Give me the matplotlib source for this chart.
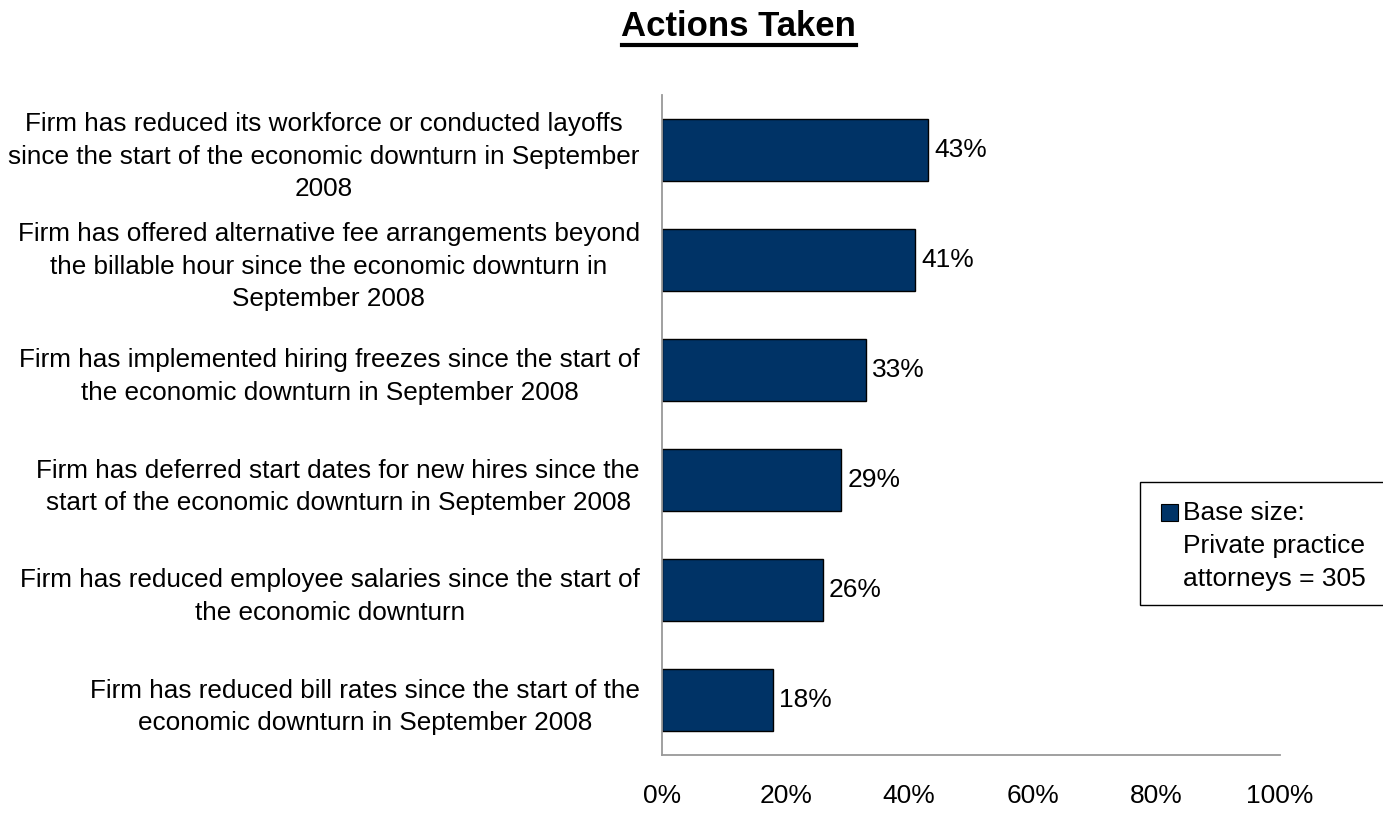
import matplotlib.pyplot as plt
import matplotlib.patches as mpatches

categories = [
    "Firm has reduced its workforce or conducted layoffs\nsince the start of the economic downturn in September\n2008",
    "Firm has offered alternative fee arrangements beyond\nthe billable hour since the economic downturn in\nSeptember 2008",
    "Firm has implemented hiring freezes since the start of\nthe economic downturn in September 2008",
    "Firm has deferred start dates for new hires since the\nstart of the economic downturn in September 2008",
    "Firm has reduced employee salaries since the start of\nthe economic downturn",
    "Firm has reduced bill rates since the start of the\neconomic downturn in September 2008",
]
values = [0.43, 0.41, 0.33, 0.29, 0.26, 0.18]
xticks = [0, 0.2, 0.4, 0.6, 0.8, 1.0]
xticklabels = ["0%", "20%", "40%", "60%", "80%", "100%"]

plt.rcParams['font.family'] = ['Liberation Sans', 'DejaVu Sans']
navy = "#003366"

fig = plt.figure(figsize=(13.83, 8.15), dpi=100)
ax = fig.add_axes([662/1383, 1-755/815, 618/1383, 660/815])

y = list(range(len(values)))[::-1]
ax.barh(y, values, height=0.56, color=navy, edgecolor="black", linewidth=1)
for yi, v in zip(y, values):
    ax.text(v + 0.01, yi, f"{round(v*100)}%", va="center", ha="left", fontsize=19)

ax.set_xlim(0, 1)
ax.set_ylim(-0.5, len(values) - 0.5)
ax.set_yticks(y)
ax.set_yticklabels(categories, fontsize=18.8, multialignment="center", linespacing=1.45)
ax.set_xticks(xticks)
ax.set_xticklabels(xticklabels, fontsize=19)
ax.tick_params(axis="both", length=0)
ax.tick_params(axis="x", pad=21)
ax.tick_params(axis="y", pad=16)
for s in ["top", "right"]:
    ax.spines[s].set_visible(False)
for s in ["left", "bottom"]:
    ax.spines[s].set_color("#999999")
    ax.spines[s].set_linewidth(1.3)

fig.text(738/1383, 1-27/815, "Actions Taken", ha="center", va="center",
         fontsize=25, fontweight="bold")
fig.add_artist(plt.Line2D([622/1383, 856/1383], [1-45/815, 1-45/815],
                          color="black", linewidth=3))

# legend box
fig.add_artist(mpatches.Rectangle((1140/1383, 1-605/815), 250/1383, 123/815,
                                  transform=fig.transFigure, facecolor="white",
                                  edgecolor="black", linewidth=1))
fig.add_artist(mpatches.Rectangle((1161/1383, 1-521/815), 17/1383, 17/815,
                                  transform=fig.transFigure, facecolor=navy,
                                  edgecolor="black", linewidth=0.8))
fig.text(1183/1383, 1-546/815, "Base size:\nPrivate practice\nattorneys = 305",
         ha="left", va="center", fontsize=19, linespacing=1.48)

fig.savefig("out.png", dpi=100)
